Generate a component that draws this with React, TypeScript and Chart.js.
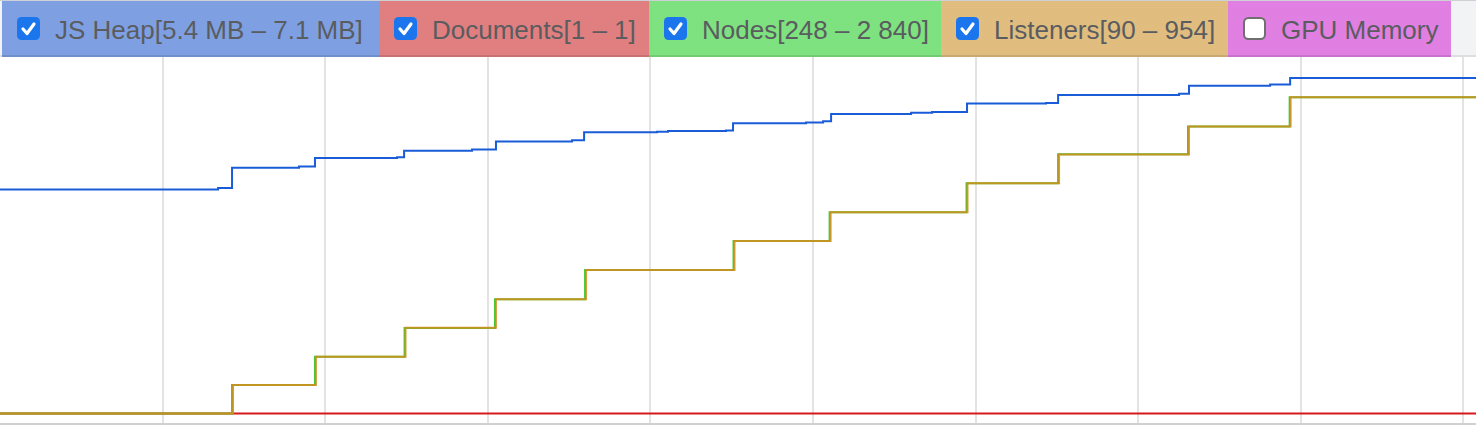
import React, { useEffect, useRef } from "react";
import { Chart, registerables } from "chart.js";

Chart.register(...registerables);

// ---- Legend ----
const legendLabels = [
  "JS Heap[5.4 MB – 7.1 MB]",
  "Documents[1 – 1]",
  "Nodes[248 – 2 840]",
  "Listeners[90 – 954]",
  "GPU Memory",
];
const legendChecked = [true, true, true, true, false];
const legendHues = [220, 0, 120, 38, 300];

// ---- Time axis (ms) ----
const timeMax = 9077;
const gridTicks = [1000, 2000, 3000, 4000, 5000, 6000, 7000, 8000, 9000];

// ---- JS Heap (MB) ----
const heapTimes = [0, 1341, 1427, 1839, 1937, 2442, 2485, 2903, 3050, 3518, 3592, 4041, 4108, 4465, 4508, 4957, 5062, 5111, 5603, 5732, 5947, 6433, 6507, 7251, 7312, 7811, 7934, 9077];
const heapValues = [5.40, 5.42, 5.73, 5.75, 5.88, 5.89, 5.99, 6.01, 6.13, 6.15, 6.27, 6.28, 6.29, 6.30, 6.41, 6.42, 6.44, 6.55, 6.57, 6.58, 6.71, 6.72, 6.84, 6.86, 6.98, 7.00, 7.10, 7.10];

// ---- Documents ----
const docTimes = [0, 9077];
const docValues = [1, 1];

// ---- Nodes ----
const nodeTimes = [0, 1427, 1937, 2488, 3044, 3598, 4511, 5102, 5944, 6507, 7306, 7931, 9077];
const nodeValues = [248, 482, 714, 949, 1184, 1424, 1662, 1897, 2135, 2373, 2600, 2840, 2840];

// ---- Listeners ----
const listenerTimes = [0, 1433, 1943, 2494, 3050, 3604, 4517, 5108, 5950, 6513, 7312, 7937, 9077];
const listenerValues = [90, 168, 245, 324, 402, 482, 561, 640, 719, 798, 874, 954, 954];

function pts(t: number[], v: number[]) {
  return t.map((x, i) => ({ x, y: v[i] }));
}

function hsl(h: number, a = 1) {
  return `hsla(${h}, 90%, 43%, ${a})`;
}

function CheckBox({ checked }: { checked: boolean }) {
  return (
    <svg width="23" height="23" viewBox="0 0 23 23" style={{ display: "block", flex: "0 0 auto" }}>
      {checked ? (
        <>
          <rect x="0" y="0" width="23" height="23" rx="4.5" fill="#1b76ee" />
          <polyline points="6,12 10,16.5 17,7" fill="none" stroke="#fff" strokeWidth="3.2" strokeLinecap="round" strokeLinejoin="round" />
        </>
      ) : (
        <rect x="1" y="1" width="21" height="21" rx="4.5" fill="#fff" stroke="#6f6f6f" strokeWidth="2" />
      )}
    </svg>
  );
}

const itemWidths = [377, 270, 292, 287, 223];

export default function App() {
  const ref = useRef<HTMLCanvasElement>(null);

  useEffect(() => {
    document.body.style.margin = "0";
    document.body.style.background = "#fff";
    const ctx = ref.current!.getContext("2d")!;
    const chart = new Chart(ctx, {
      type: "line",
      data: {
        datasets: [
          {
            label: "Listeners",
            data: pts(listenerTimes, listenerValues),
            borderColor: "rgba(214,140,30,0.85)",
            yAxisID: "yListeners",
            order: 0,
          },
          {
            label: "Nodes",
            data: pts(nodeTimes, nodeValues),
            borderColor: "rgb(70,200,50)",
            yAxisID: "yNodes",
            order: 1,
          },
          {
            label: "Documents",
            data: pts(docTimes, docValues),
            borderColor: "rgb(215,25,30)",
            yAxisID: "yDocs",
            order: 2,
          },
          {
            label: "JS Heap",
            data: pts(heapTimes, heapValues),
            borderColor: "rgb(26,92,216)",
            yAxisID: "yHeap",
            order: 3,
          },
        ] as any,
      },
      options: {
        animation: false,
        responsive: false,
        devicePixelRatio: 1,
        layout: { padding: { left: 0, right: 0, top: 0, bottom: 4 } },
        plugins: { legend: { display: false }, tooltip: { enabled: false } },
        elements: {
          point: { radius: 0 },
          line: { borderWidth: 2, tension: 0, stepped: true, fill: false },
        },
        scales: {
          x: {
            type: "linear",
            min: 0,
            max: timeMax,
            afterBuildTicks: (s: any) => {
              s.ticks = gridTicks.map((v) => ({ value: v }));
            },
            ticks: { display: false },
            grid: { color: "#e3e3e3", lineWidth: 2, drawTicks: false },
            border: { display: true, color: "#cfd2d5", width: 2 },
          },
          yHeap: { display: false, min: 1.82, max: 7.42 },
          yDocs: { display: false, min: 0.9714, max: 1.9714 },
          yNodes: { display: false, min: 161.9, max: 3170.3 },
          yListeners: { display: false, min: 61.3, max: 1064.1 },
        },
      } as any,
    });
    return () => chart.destroy();
  }, []);

  return (
    <div style={{ width: 1476, background: "#fff" }}>
      <div
        style={{
          display: "flex",
          height: 56,
          borderTop: "1px solid #cdd0d4",
          paddingLeft: 2,
          background: "linear-gradient(#f1f3f4 54px, #dcdee1 54px)",
          fontFamily: "'Liberation Sans', Arial, Helvetica, sans-serif",
          fontSize: 26,
          color: "#5a5c5f",
        }}
      >
        {legendLabels.map((lab, i) => (
          <div
            key={i}
            style={{
              width: itemWidths[i],
              height: 56,
              boxSizing: "border-box",
              display: "flex",
              alignItems: "center",
              paddingLeft: 15,
              paddingBottom: 1,
              background: `linear-gradient(${hsl(legendHues[i], 0.5)}, ${hsl(legendHues[i], 0.5)}), #f1f3f4`,
              boxShadow: "inset 0 -2px 0 rgba(0,0,0,0.1)",
              whiteSpace: "nowrap",
              overflow: "hidden",
            }}
          >
            <CheckBox checked={legendChecked[i]} />
            <span style={{ marginLeft: 15, lineHeight: "54px", position: "relative", top: 1 }}>{lab}</span>
          </div>
        ))}
      </div>
      <canvas ref={ref} width={1476} height={371} style={{ display: "block", width: 1476, height: 371 }} />
    </div>
  );
}
